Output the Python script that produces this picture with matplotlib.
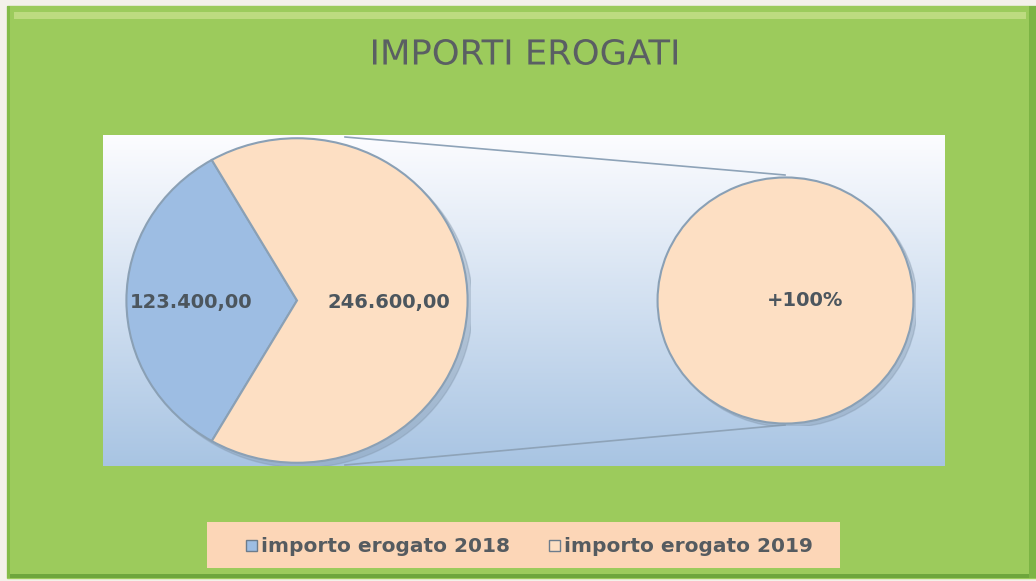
import numpy as np
import matplotlib.pyplot as plt
from matplotlib.patches import Rectangle, Ellipse, PathPatch
from matplotlib.textpath import TextPath
from matplotlib.font_manager import FontProperties
from matplotlib.transforms import Affine2D

# data
categorie = ['importo erogato 2018', 'importo erogato 2019']
importi = [123400.00, 246600.00]
etichetta_secondaria = '+100%'
titolo = 'IMPORTI EROGATI'

colori = ['#9dbde3', '#fddfc3']
W, H = 1036, 581


def fmt_it(v):
    s = f'{v:,.2f}'
    return s.replace(',', '#').replace('.', ',').replace('#', '.')


def fig_rect(x0, y0, x1, y1):
    # pixel box (top-left origin) -> figure fraction
    return [x0 / W, 1 - y1 / H, (x1 - x0) / W, (y1 - y0) / H]


fig = plt.figure(figsize=(W / 100, H / 100), dpi=100, facecolor='#f4f1ea')

# background panel in pixel coordinates
bg = fig.add_axes([0, 0, 1, 1])
bg.set_xlim(0, W)
bg.set_ylim(H, 0)
bg.axis('off')
bg.add_patch(Rectangle((7, 6), W - 7, H - 9, color='#9ccb5c', zorder=0))
bg.add_patch(Rectangle((14, 12), W - 24, 7, color='#bddb80', zorder=1, lw=0))
bg.add_patch(Rectangle((7, 574), W - 7, 4, color='#6ea63c', zorder=1, lw=0))
bg.add_patch(Rectangle((1029, 6), 7, H - 9, color='#7cb444', zorder=1, lw=0))
bg.add_patch(Rectangle((7, 6), 3, H - 9, color='#84bb48', zorder=1, lw=0))

# plot area gradient
grad = np.linspace(0, 1, 256).reshape(-1, 1)
top = np.array([0.99, 0.99, 1.0])
bot = np.array([0.66, 0.77, 0.89])
img = top + grad[..., None] * (bot - top)
bg.imshow(img, extent=(103, 945, 466, 135), aspect='auto', zorder=2)

# connector lines between the two pies
bg.plot([345, 785], [137, 175], color='#8ea3b8', lw=1.2, zorder=3)
bg.plot([345, 785], [465, 425], color='#8ea3b8', lw=1.2, zorder=3)

# narrow title: text path squeezed horizontally
tp = TextPath((0, 0), titolo, size=30, prop=FontProperties(family='DejaVu Sans'))
ext = tp.get_extents()
sx = 304 / ext.width
sy = 26 / ext.height
tr = Affine2D().translate(-ext.x0, -ext.y0).scale(sx, -sy).translate(373, 65)
bg.add_patch(PathPatch(tr.transform_path(tp), color='#5a5f63', lw=0, zorder=4))

# main pie
ax1 = fig.add_axes(fig_rect(123, 135, 471, 466))
ax1.add_patch(Ellipse((0.03, -0.03), 2.0, 2.0, color='#7f93a8', alpha=0.35, zorder=0))
quota = importi[0] / sum(importi) * 360
wedges, _ = ax1.pie(importi, colors=colori, startangle=180 - quota / 2,
                    counterclock=True,
                    wedgeprops=dict(edgecolor='#8aa0b5', linewidth=1.5))
ax1.set_aspect('auto')
ax1.set_xlim(-1.02, 1.02)
ax1.set_ylim(-1.02, 1.02)
distanze = [0.62, 0.54]
for w, v, d in zip(wedges, importi, distanze):
    ang = np.deg2rad((w.theta1 + w.theta2) / 2)
    ax1.text(d * np.cos(ang), d * np.sin(ang) - 0.01, fmt_it(v), ha='center',
             va='center', fontsize=14, fontweight='bold', color='#4c565e')

# secondary pie
ax2 = fig.add_axes(fig_rect(655, 175, 916, 426))
ax2.add_patch(Ellipse((0.03, -0.03), 2.0, 2.0, color='#7f93a8', alpha=0.35, zorder=0))
ax2.pie([importi[1]], colors=[colori[1]],
        wedgeprops=dict(edgecolor='#8aa0b5', linewidth=1.5))
ax2.set_aspect('auto')
ax2.set_xlim(-1.02, 1.02)
ax2.set_ylim(-1.02, 1.02)
ax2.text(0.15, 0.0, etichetta_secondaria, ha='center', va='center', fontsize=14,
         fontweight='bold', color='#4c565e')

# legend
bg.add_patch(Rectangle((207, 522), 633, 46, color='#fcd6b7', zorder=2, lw=0))
leg_x = [246, 549]
for x, cat, col in zip(leg_x, categorie, colori):
    bg.add_patch(Rectangle((x, 540), 11, 11, facecolor=col, edgecolor='#6c7c8c',
                           lw=1, zorder=3))
    bg.text(x + 15, 546, cat, ha='left', va='center', fontsize=14.5,
            fontweight='bold', color='#555b60', zorder=4)

fig.savefig('out.png', dpi=100, facecolor=fig.get_facecolor())
